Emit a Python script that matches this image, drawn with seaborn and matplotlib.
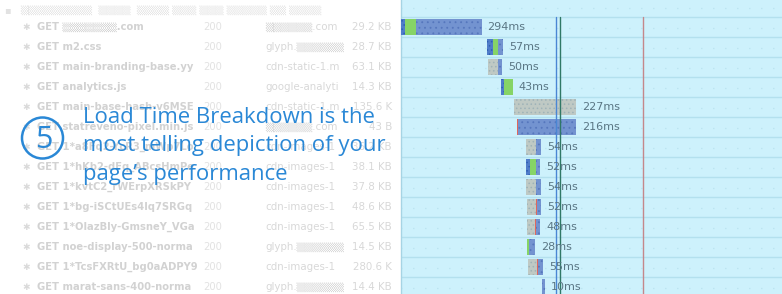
import matplotlib
matplotlib.use("Agg")
import matplotlib.pyplot as plt
from matplotlib.patches import Circle
import numpy as np
import seaborn as sns

# ---------------- data ----------------
req_names = ["▒▒▒▒▒▒▒.com", "m2.css", "main-branding-base.yy", "analytics.js",
             "main-base-hash-v6MSE", "statreveno-pixel.min.js", "1*a8Fq2-YcR3_mWp7Lo",
             "1*hKb2-dFq_ABcsHmPe", "1*kvtC2_rWErpXRSkPY", "1*bg-iSCtUEs4lq7SRGq",
             "1*OlazBly-GmsneY_VGa", "noe-display-500-norma", "1*TcsFXRtU_bg0aADPY9",
             "marat-sans-400-norma"]
req_status = ["200"] * 14
req_domains = ["▒▒▒▒▒▒.com", "glyph.▒▒▒▒▒▒", "cdn-static-1.m", "google-analyti",
               "cdn-static-1.m", "▒▒▒▒▒▒.com", "cdn-images-1", "cdn-images-1",
               "cdn-images-1", "cdn-images-1", "cdn-images-1", "glyph.▒▒▒▒▒▒",
               "cdn-images-1", "glyph.▒▒▒▒▒▒"]
req_sizes = ["29.2 KB", "28.7 KB", "63.1 KB", "14.3 KB", "135.6 K", "43 B", "36.2 KB",
             "38.1 KB", "37.8 KB", "48.6 KB", "65.5 KB", "14.5 KB", "280.6 K", "14.4 KB"]

start_ms   = [0, 314, 318, 365, 412, 423, 456, 456, 456, 460, 460, 460, 464, 515]
queue_ms   = [0, 0, 37, 0, 227, 0, 36, 0, 36, 33, 30, 0, 33, 0]
dns_ms     = [15, 22, 0, 11, 0, 0, 0, 14, 0, 0, 0, 0, 0, 0]
ssl_ms     = [0, 0, 0, 0, 0, 4, 0, 0, 0, 3, 3, 0, 3, 0]
connect_ms = [40, 18, 0, 32, 0, 0, 0, 22, 0, 0, 0, 7, 0, 0]
recv_ms    = [239, 17, 13, 0, 0, 212, 18, 16, 18, 16, 15, 21, 19, 10]
total_labels = ["294ms", "57ms", "50ms", "43ms", "227ms", "216ms", "54ms", "52ms",
                "54ms", "52ms", "48ms", "28ms", "55ms", "10ms"]
marker_ms = [566, 580, 883]

callout_lines = ["Load Time Breakdown is the", "most telling depiction of your",
                 "page’s performance"]
step_number = "5"

# ---------------- style ----------------
sns.set_theme(style="white")
plt.rcParams["font.family"] = ["DejaVu Sans"]
plt.rcParams["hatch.linewidth"] = 0.6

W, H = 782, 294
fig = plt.figure(figsize=(W / 100, H / 100), dpi=100)
fig.patch.set_facecolor("white")

# waterfall axes
ax = fig.add_axes([401 / W, 0, (W - 401) / W, 1])
ax.set_facecolor("#cdf1fc")
ax.set_xlim(0, 1390)
n = len(start_ms)
ax.set_ylim(13.35, -1.35)
ax.set_xticks([]); ax.set_yticks([])
for s in ["top", "right", "bottom"]:
    ax.spines[s].set_visible(False)
ax.spines["left"].set_color("#a6d4e4")
ax.spines["left"].set_linewidth(1.0)

# row separators
for i in range(-1, n):
    ax.axhline(i + 0.5, color="#b3e0ee", lw=1.0, zorder=1)

# faint dot texture
for i in range(-1, n):
    ax.plot([0, 1390], [i + 0.05, i + 0.05], ls=(0, (0.6, 9)), color="#add9e8",
            lw=0.9, zorder=1)

seg_styles = [
    (queue_ms, "#bfc9c4", "#9fb3b8", "...."),
    (dns_ms, "#4f7cc9", "#2e5fb4", "...."),
    (ssl_ms, "#e0675c", "#e0675c", None),
    (connect_ms, "#86d466", "#86d466", None),
    (recv_ms, "#7393d0", "#5677bd", "..."),
]
y = np.arange(n)
left = np.array(start_ms, dtype=float)
for vals, fc, ec, hatch in seg_styles:
    vals = np.array(vals, dtype=float)
    mask = vals > 0
    ax.barh(y[mask], vals[mask], left=left[mask], height=0.78, color=fc,
            edgecolor=ec if hatch else "none", hatch=hatch, linewidth=0, zorder=3)
    left = left + vals

for i in range(n):
    ax.text(left[i] + 22, i, total_labels[i], va="center", ha="left",
            fontsize=8, color="#5a7684", zorder=5)

line_colors = ["#4a86d4", "#2f7866", "#c4878b"]
for xm, c in zip(marker_ms, line_colors):
    ax.plot([xm, xm], [-0.5, 13.35], color=c, lw=1.0, zorder=4)

# overlay axes in pixel coordinates for left panel
ov = fig.add_axes([0, 0, 1, 1], facecolor="none")
ov.set_xlim(0, W); ov.set_ylim(H, 0)
ov.axis("off")

# header (obscured)
ov.text(4, 10, "▪", fontsize=7, color="#e2e2e2", va="center")
ov.text(20, 10, "▒▒▒▒▒▒▒▒▒  ▒▒▒▒  ▒▒▒▒ ▒▒▒ ▒▒▒ ▒▒▒▒▒ ▒▒ ▒▒▒▒",
        fontsize=7.5, color="#e6e6e6", va="center")

for i in range(n):
    yy = 27 + 20 * i
    ov.text(22, yy, "✱", fontsize=6.5, color="#dadada", va="center")
    ov.text(37, yy, "GET " + req_names[i], fontsize=7.2, fontweight="bold",
            color="#d2d2d2", va="center")
    ov.text(203, yy, req_status[i], fontsize=7.2, color="#e2e2e2", va="center")
    ov.text(265, yy, req_domains[i], fontsize=7.4, color="#d8d8d8", va="center")
    ov.text(392, yy, req_sizes[i], fontsize=7.4, color="#d8d8d8", va="center",
            ha="right")

# truncation mask after the name column
ov.add_patch(plt.Rectangle((194, 18), 7, 280, color="white", zorder=2))

# callout
blue = "#2a88d6"
for k, line in enumerate(callout_lines):
    ov.text(83, 123 + 28.5 * k, line, fontsize=15.9, color=blue, va="baseline",
            ha="left", family=["Open Sans", "DejaVu Sans"], zorder=10)
ov.add_patch(Circle((42.5, 138), 20.5, fill=False, ec=blue, lw=1.8, zorder=10))
ov.text(43.5, 139.5, step_number, fontsize=22, color=blue, ha="center", va="center",
        family=["Open Sans", "DejaVu Sans"], zorder=10)

fig.savefig("out.png", dpi=100)
